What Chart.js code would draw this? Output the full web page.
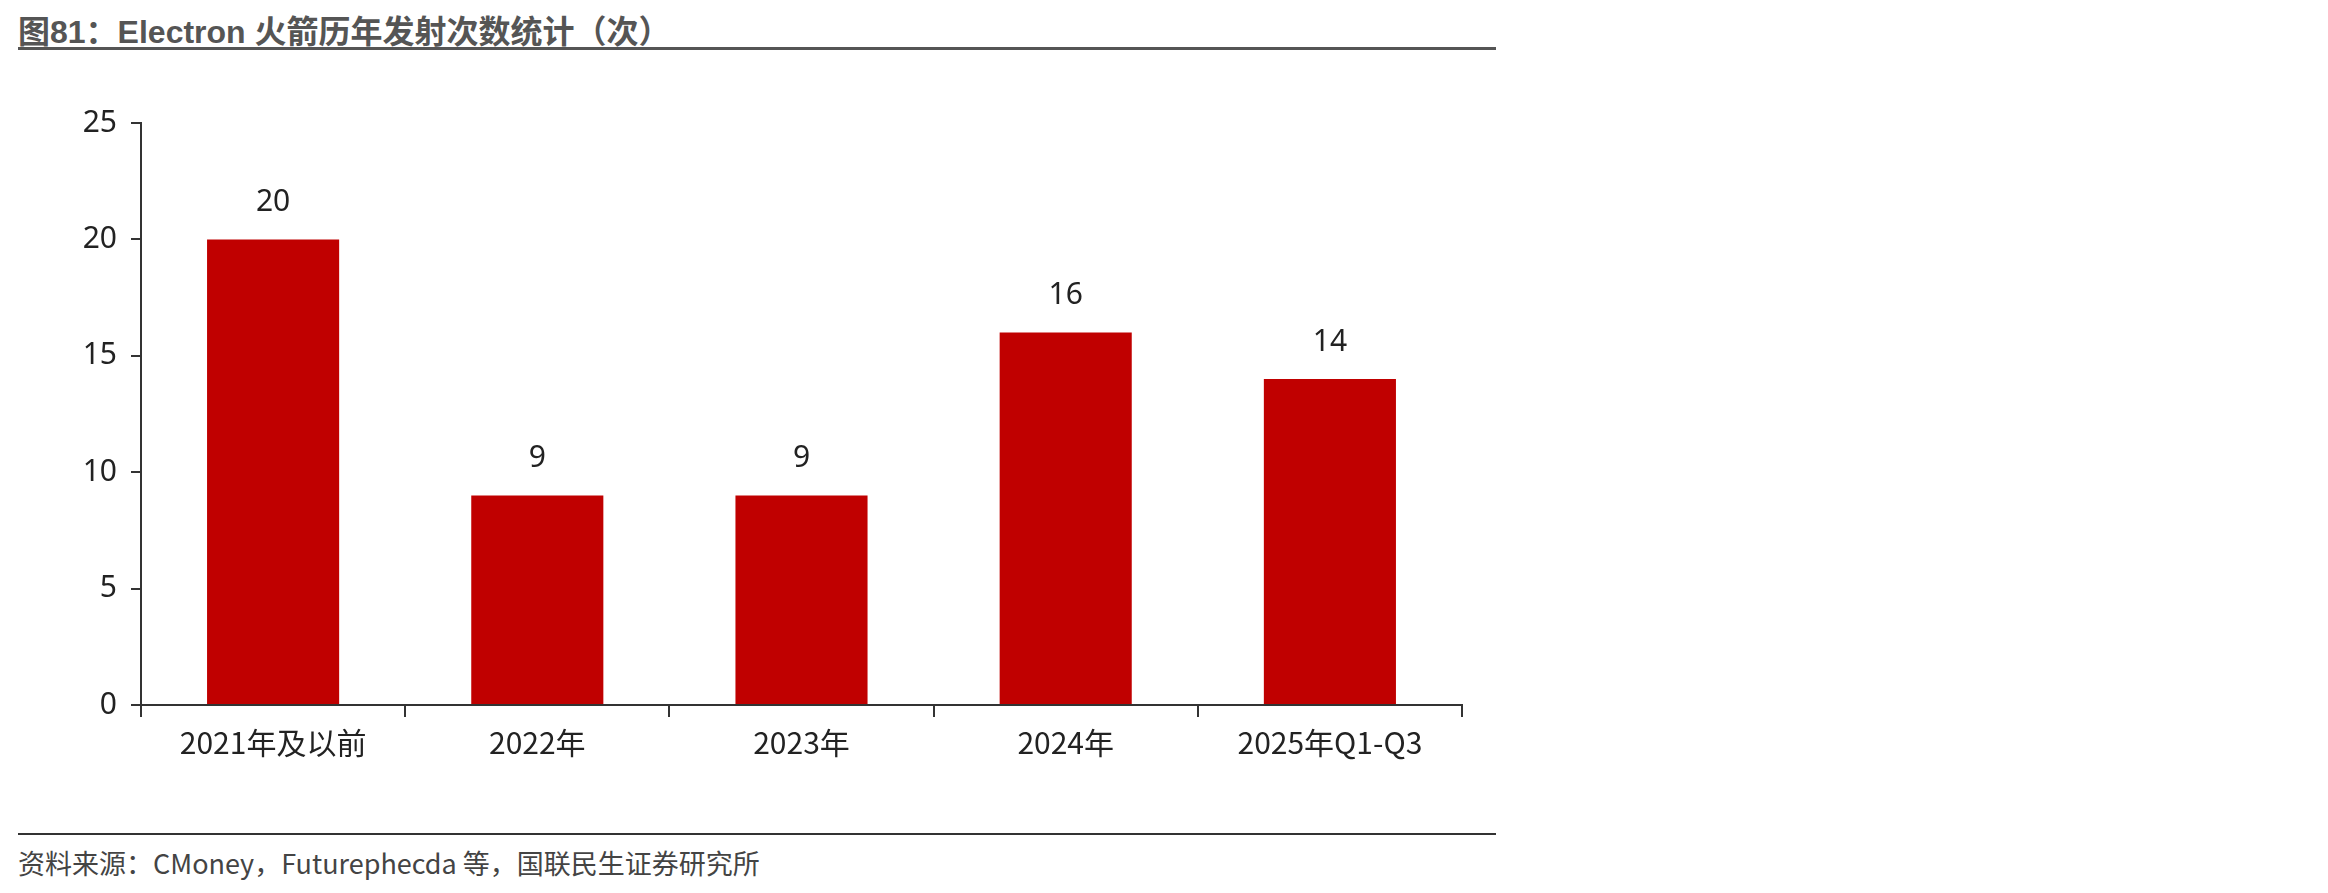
<!DOCTYPE html>
<html><head><meta charset="utf-8">
<script src="https://cdn.jsdelivr.net/npm/chart.js@4/dist/chart.umd.min.js"></script>
<style>
body{margin:0;background:#fff;width:2328px;height:893px;position:relative;overflow:hidden;font-family:"Noto Sans CJK SC","Noto Sans",sans-serif}
#title{position:absolute;left:18px;top:6px;font-size:32px;font-weight:bold;color:#555;font-family:"Liberation Sans","Noto Sans CJK SC",sans-serif}
#l1{position:absolute;left:18px;top:47px;width:1478px;height:3px;background:#555}
#l2{position:absolute;left:18px;top:833px;width:1478px;height:2px;background:#333}
#src{position:absolute;left:18px;top:843px;font-size:27px;color:#444}
#wrap{position:absolute;left:0;top:0;width:1480px;height:790px}
</style></head><body>
<div id="title">图81：Electron 火箭历年发射次数统计（次）</div>
<div id="l1"></div>
<div id="wrap"><canvas id="c"></canvas></div>
<div id="l2"></div>
<div id="src">资料来源：CMoney，Futurephecda 等，国联民生证券研究所</div>
<script>
const categories=["2021年及以前","2022年","2023年","2024年","2025年Q1-Q3"];
const launches=[20,9,9,16,14];
const yTicks=[0,5,10,15,20,25];
const labelPlugin={id:'lbl',afterDatasetsDraw(ch){const c=ch.ctx;const m=ch.getDatasetMeta(0);c.save();c.font='30px "Noto Sans","Liberation Sans",sans-serif';c.fillStyle='#222';c.textAlign='center';c.textBaseline='bottom';m.data.forEach((b,i)=>c.fillText(launches[i],b.x,b.y-22));c.restore();}};
new Chart(document.getElementById('c'),{type:'bar',
data:{labels:categories,datasets:[{data:launches,backgroundColor:'#C00000',categoryPercentage:1,barPercentage:0.5}]},
options:{responsive:true,maintainAspectRatio:false,animation:false,
layout:{padding:{top:123,right:18,left:0,bottom:0}},
plugins:{legend:{display:false},tooltip:{enabled:false}},
scales:{
x:{grid:{display:true,drawOnChartArea:false,offset:true,color:'#333',tickLength:12,lineWidth:2},border:{color:'#333',width:2},
 ticks:{color:'#222',font:{size:30,family:'"Noto Sans CJK SC",sans-serif'},padding:8},afterFit(a){a.height=85}},
y:{min:0,max:25,afterBuildTicks(a){a.ticks=yTicks.map(v=>({value:v}))},grid:{display:true,drawOnChartArea:false,color:'#333',tickLength:10,lineWidth:2},border:{color:'#333',width:2},
 ticks:{color:'#222',font:{size:30,family:'"Noto Sans",sans-serif'},padding:14},afterFit(a){a.width=141}}
}},plugins:[labelPlugin]});
</script></body></html>
